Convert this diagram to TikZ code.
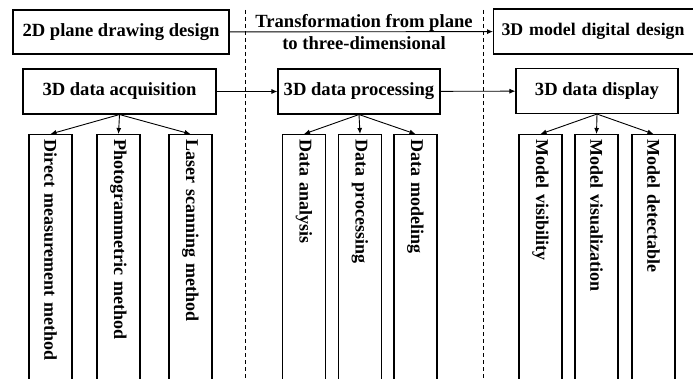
\documentclass[tikz,border=0pt]{standalone}
\usepackage{fontspec}
\setmainfont{Liberation Serif}
\usetikzlibrary{arrows.meta}
\begin{document}
\begin{tikzpicture}[x=1pt,y=-1pt,
  every node/.style={font=\fontsize{18.6}{22}\selectfont\bfseries},
  hbox/.style={draw,line width=1.1pt,inner sep=0pt},
  vbox/.style={draw,line width=1.1pt,rotate=-90,anchor=west,minimum height=43pt,
    text width=250pt,align=left,inner xsep=5pt,inner ysep=0pt,
    font=\fontsize{18}{22}\selectfont\bfseries},
  conn/.style={line width=0.9pt,-{Latex[length=6pt,width=5pt]}},
  sep/.style={line width=0.7pt,dash pattern=on 4pt off 3pt}]
\useasboundingbox (0,0) rectangle (693,379);
\clip (0,0) rectangle (693,379);
\fill[white] (0,0) rectangle (693,379);
% separators
\coordinate (s1t) at (245,10); \coordinate (s1b) at (245,379);
\coordinate (s2t) at (483,10); \coordinate (s2b) at (483,379);
\draw[sep] (s1t) -- (s1b);
\draw[sep] (s2t) -- (s2b);
% top row
\node[hbox,minimum width=216pt,minimum height=44pt] (p2d) at (121,32) {2D plane drawing design};
\node[hbox,minimum height=45pt,anchor=west,text width=200pt,align=left,inner xsep=8pt,
  font=\fontsize{17.8}{22}\selectfont\bfseries] (m3d) at (493,31.5) {3D model digital design};
\node[align=center] (tr) at (364,32) {Transformation from plane\\to three-dimensional};
\draw[conn] (p2d) -- (m3d);
% second row
\node[hbox,minimum width=193pt,minimum height=45pt] (acq) at (119.5,91.5) {3D data acquisition};
\node[hbox,minimum width=162pt,minimum height=45pt] (proc) at (359,91.5) {3D data processing};
\node[hbox,minimum width=162pt,minimum height=45pt] (disp) at (597,91) {3D data display};
\draw[conn] (acq) -- (proc);
\draw[conn] (proc) -- (disp);
% vertical boxes
\node[vbox] (d1) at (50.5,134) {Direct measurement method};
\node[vbox] (d2) at (118.5,134) {Photogrammetric method};
\node[vbox] (d3) at (190.5,134) {Laser scanning method};
\node[vbox] (e1) at (304,134) {Data analysis};
\node[vbox] (e2) at (360,134) {Data processing};
\node[vbox] (e3) at (415.5,134) {Data modeling};
\node[vbox] (f1) at (540.5,134) {Model visibility};
\node[vbox] (f2) at (596.5,134) {Model visualization};
\node[vbox] (f3) at (653.5,134) {Model detectable};
\foreach \c in {d1,d2,d3} \draw[conn] (acq.south) -- (\c.west);
\foreach \c in {e1,e2,e3} \draw[conn] (proc.south) -- (\c.west);
\foreach \c in {f1,f2,f3} \draw[conn] (disp.south) -- (\c.west);
\end{tikzpicture}
\end{document}
